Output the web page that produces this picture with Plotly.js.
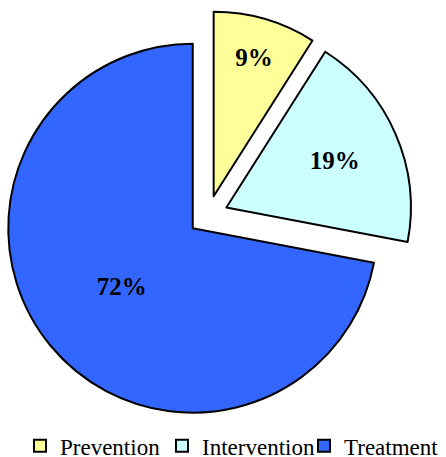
<!DOCTYPE html>
<html>
<head>
<meta charset="utf-8">
<script src="https://cdn.plot.ly/plotly-3.0.1.min.js"></script>
<style>html,body{margin:0;padding:0;background:#fff;}#chart{width:446px;height:457px;}</style>
</head>
<body>
<div id="chart"></div>
<script>
var categories = ["Prevention", "Intervention", "Treatment"];
var shares = [9, 19, 72];
var sliceColors = ["#FFFF99", "#CCFFFF", "#3366FF"];

var W = 446, H = 457;
var cx = 208.1, cy = 215.45, half = 204.4;
var pullFrac = 0.108;

var data = [{
  type: "pie",
  labels: categories,
  values: shares,
  sort: false,
  direction: "clockwise",
  rotation: 0,
  pull: [pullFrac, pullFrac, pullFrac],
  marker: {colors: sliceColors, line: {color: "#000000", width: 2}},
  textinfo: "percent",
  textposition: "inside",
  insidetextorientation: "horizontal",
  insidetextfont: {family: "Liberation Serif", size: 25, color: "#000000", weight: "bold"},
  hoverinfo: "none",
  domain: {x: [(cx - half) / W, (cx + half) / W], y: [1 - (cy + half) / H, 1 - (cy - half) / H]}
}];

var layout = {
  width: W, height: H,
  margin: {l: 0, r: 0, t: 0, b: 0, pad: 0, autoexpand: false},
  paper_bgcolor: "#ffffff",
  showlegend: true,
  legend: {
    orientation: "h",
    x: 20 / W, xanchor: "left",
    y: 1 - 424.2 / H, yanchor: "top",
    entrywidth: 97, entrywidthmode: "pixels",
    font: {family: "Liberation Serif", size: 23, color: "#000000"},
    bgcolor: "rgba(0,0,0,0)"
  },
  font: {family: "Liberation Serif"}
};

Plotly.newPlot("chart", data, layout, {displayModeBar: false, staticPlot: true});
</script>
</body>
</html>
